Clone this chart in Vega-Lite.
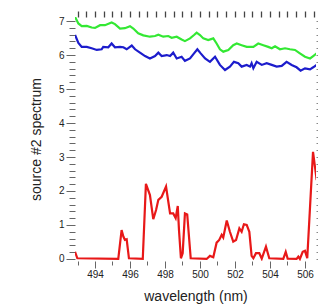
{
  "$schema": "https://vega.github.io/schema/vega-lite/v6.json",
  "width": 241,
  "height": 244,
  "autosize": {"type": "none"},
  "padding": {"left": 75, "top": 17, "right": 2, "bottom": 45},
  "config": {
    "view": {"stroke": null},
    "font": "Liberation Sans",
    "axis": {"grid": false, "domain": false, "labelFont": "Liberation Sans", "titleFont": "Liberation Sans", "labelColor": "#222", "titleColor": "#222", "tickColor": "#666", "titleFontWeight": "normal"}
  },
  "datasets": {
    "spec": [
      {"series": "A", "wl": 492.86, "v": 7.12}, {"series": "A", "wl": 493.05, "v": 6.93}, {"series": "A", "wl": 493.24, "v": 6.85}, {"series": "A", "wl": 493.53, "v": 6.86}, {"series": "A", "wl": 493.81, "v": 6.81}, {"series": "A", "wl": 494.0, "v": 6.8}, {"series": "A", "wl": 494.29, "v": 6.88}, {"series": "A", "wl": 494.57, "v": 6.88}, {"series": "A", "wl": 494.95, "v": 6.96}, {"series": "A", "wl": 495.14, "v": 6.91}, {"series": "A", "wl": 495.43, "v": 6.78}, {"series": "A", "wl": 495.71, "v": 6.79}, {"series": "A", "wl": 496.0, "v": 6.85}, {"series": "A", "wl": 496.19, "v": 6.78}, {"series": "A", "wl": 496.47, "v": 6.64}, {"series": "A", "wl": 496.76, "v": 6.58}, {"series": "A", "wl": 497.14, "v": 6.54}, {"series": "A", "wl": 497.43, "v": 6.56}, {"series": "A", "wl": 497.62, "v": 6.6}, {"series": "A", "wl": 497.9, "v": 6.54}, {"series": "A", "wl": 498.19, "v": 6.56}, {"series": "A", "wl": 498.38, "v": 6.51}, {"series": "A", "wl": 498.67, "v": 6.54}, {"series": "A", "wl": 498.95, "v": 6.46}, {"series": "A", "wl": 499.14, "v": 6.41}, {"series": "A", "wl": 499.43, "v": 6.49}, {"series": "A", "wl": 499.66, "v": 6.59}, {"series": "A", "wl": 499.81, "v": 6.66}, {"series": "A", "wl": 500.0, "v": 6.59}, {"series": "A", "wl": 500.19, "v": 6.49}, {"series": "A", "wl": 500.47, "v": 6.44}, {"series": "A", "wl": 500.76, "v": 6.49}, {"series": "A", "wl": 500.95, "v": 6.34}, {"series": "A", "wl": 501.14, "v": 6.17}, {"series": "A", "wl": 501.33, "v": 6.1}, {"series": "A", "wl": 501.62, "v": 6.15}, {"series": "A", "wl": 501.9, "v": 6.29}, {"series": "A", "wl": 502.1, "v": 6.34}, {"series": "A", "wl": 502.38, "v": 6.29}, {"series": "A", "wl": 502.67, "v": 6.24}, {"series": "A", "wl": 503.05, "v": 6.24}, {"series": "A", "wl": 503.33, "v": 6.34}, {"series": "A", "wl": 503.62, "v": 6.29}, {"series": "A", "wl": 503.9, "v": 6.24}, {"series": "A", "wl": 504.1, "v": 6.2}, {"series": "A", "wl": 504.29, "v": 6.26}, {"series": "A", "wl": 504.57, "v": 6.17}, {"series": "A", "wl": 504.86, "v": 6.2}, {"series": "A", "wl": 505.14, "v": 6.17}, {"series": "A", "wl": 505.43, "v": 6.15}, {"series": "A", "wl": 505.71, "v": 6.05}, {"series": "A", "wl": 506.0, "v": 5.95}, {"series": "A", "wl": 506.29, "v": 5.9}, {"series": "A", "wl": 506.47, "v": 5.97}, {"series": "A", "wl": 506.67, "v": 6.05},
      {"series": "B", "wl": 492.86, "v": 6.59}, {"series": "B", "wl": 493.05, "v": 6.36}, {"series": "B", "wl": 493.24, "v": 6.24}, {"series": "B", "wl": 493.53, "v": 6.24}, {"series": "B", "wl": 493.81, "v": 6.2}, {"series": "B", "wl": 494.1, "v": 6.15}, {"series": "B", "wl": 494.38, "v": 6.17}, {"series": "B", "wl": 494.47, "v": 6.24}, {"series": "B", "wl": 494.76, "v": 6.23}, {"series": "B", "wl": 494.95, "v": 6.34}, {"series": "B", "wl": 495.14, "v": 6.23}, {"series": "B", "wl": 495.43, "v": 6.24}, {"series": "B", "wl": 495.62, "v": 6.23}, {"series": "B", "wl": 495.81, "v": 6.17}, {"series": "B", "wl": 496.1, "v": 6.28}, {"series": "B", "wl": 496.29, "v": 6.17}, {"series": "B", "wl": 496.57, "v": 6.07}, {"series": "B", "wl": 496.86, "v": 5.97}, {"series": "B", "wl": 497.14, "v": 5.9}, {"series": "B", "wl": 497.43, "v": 5.97}, {"series": "B", "wl": 497.62, "v": 6.07}, {"series": "B", "wl": 497.81, "v": 5.97}, {"series": "B", "wl": 498.1, "v": 6.0}, {"series": "B", "wl": 498.29, "v": 5.97}, {"series": "B", "wl": 498.47, "v": 6.07}, {"series": "B", "wl": 498.67, "v": 5.9}, {"series": "B", "wl": 498.95, "v": 5.95}, {"series": "B", "wl": 499.14, "v": 5.83}, {"series": "B", "wl": 499.43, "v": 5.9}, {"series": "B", "wl": 499.66, "v": 6.05}, {"series": "B", "wl": 499.85, "v": 6.17}, {"series": "B", "wl": 500.04, "v": 6.05}, {"series": "B", "wl": 500.29, "v": 5.9}, {"series": "B", "wl": 500.57, "v": 5.8}, {"series": "B", "wl": 500.86, "v": 5.95}, {"series": "B", "wl": 501.14, "v": 5.71}, {"series": "B", "wl": 501.43, "v": 5.56}, {"series": "B", "wl": 501.71, "v": 5.66}, {"series": "B", "wl": 501.94, "v": 5.8}, {"series": "B", "wl": 502.19, "v": 5.76}, {"series": "B", "wl": 502.38, "v": 5.66}, {"series": "B", "wl": 502.67, "v": 5.71}, {"series": "B", "wl": 502.86, "v": 5.66}, {"series": "B", "wl": 502.95, "v": 5.76}, {"series": "B", "wl": 503.05, "v": 5.61}, {"series": "B", "wl": 503.24, "v": 5.8}, {"series": "B", "wl": 503.53, "v": 5.71}, {"series": "B", "wl": 503.81, "v": 5.76}, {"series": "B", "wl": 504.1, "v": 5.71}, {"series": "B", "wl": 504.38, "v": 5.66}, {"series": "B", "wl": 504.67, "v": 5.68}, {"series": "B", "wl": 504.95, "v": 5.8}, {"series": "B", "wl": 505.24, "v": 5.71}, {"series": "B", "wl": 505.52, "v": 5.64}, {"series": "B", "wl": 505.75, "v": 5.54}, {"series": "B", "wl": 506.0, "v": 5.61}, {"series": "B", "wl": 506.29, "v": 5.58}, {"series": "B", "wl": 506.47, "v": 5.64}, {"series": "B", "wl": 506.67, "v": 5.71},
      {"series": "C", "wl": 492.86, "v": 0.21}, {"series": "C", "wl": 492.99, "v": 0.02}, {"series": "C", "wl": 495.33, "v": 0.0}, {"series": "C", "wl": 495.52, "v": 0.85}, {"series": "C", "wl": 495.62, "v": 0.66}, {"series": "C", "wl": 495.71, "v": 0.56}, {"series": "C", "wl": 495.81, "v": 0.58}, {"series": "C", "wl": 495.94, "v": 0.02}, {"series": "C", "wl": 496.73, "v": 0.0}, {"series": "C", "wl": 496.91, "v": 2.21}, {"series": "C", "wl": 497.14, "v": 1.88}, {"series": "C", "wl": 497.33, "v": 1.17}, {"series": "C", "wl": 497.49, "v": 1.44}, {"series": "C", "wl": 497.62, "v": 1.74}, {"series": "C", "wl": 497.81, "v": 1.83}, {"series": "C", "wl": 498.06, "v": 2.13}, {"series": "C", "wl": 498.29, "v": 1.34}, {"series": "C", "wl": 498.47, "v": 1.34}, {"series": "C", "wl": 498.61, "v": 1.2}, {"series": "C", "wl": 498.73, "v": 1.56}, {"series": "C", "wl": 498.8, "v": 0.85}, {"series": "C", "wl": 498.91, "v": 0.02}, {"series": "C", "wl": 499.01, "v": 0.17}, {"series": "C", "wl": 499.14, "v": 1.34}, {"series": "C", "wl": 499.27, "v": 1.31}, {"series": "C", "wl": 499.47, "v": 0.02}, {"series": "C", "wl": 500.38, "v": 0.0}, {"series": "C", "wl": 500.57, "v": 0.09}, {"series": "C", "wl": 500.76, "v": 0.05}, {"series": "C", "wl": 500.95, "v": 0.48}, {"series": "C", "wl": 501.1, "v": 0.56}, {"series": "C", "wl": 501.24, "v": 0.71}, {"series": "C", "wl": 501.33, "v": 0.63}, {"series": "C", "wl": 501.53, "v": 1.13}, {"series": "C", "wl": 501.71, "v": 0.8}, {"series": "C", "wl": 501.9, "v": 0.51}, {"series": "C", "wl": 502.06, "v": 0.56}, {"series": "C", "wl": 502.25, "v": 0.9}, {"series": "C", "wl": 502.38, "v": 0.8}, {"series": "C", "wl": 502.51, "v": 1.02}, {"series": "C", "wl": 502.67, "v": 1.0}, {"series": "C", "wl": 502.82, "v": 0.8}, {"series": "C", "wl": 502.95, "v": 0.09}, {"series": "C", "wl": 503.05, "v": 0.02}, {"series": "C", "wl": 503.2, "v": 0.17}, {"series": "C", "wl": 503.39, "v": 0.17}, {"series": "C", "wl": 503.53, "v": 0.01}, {"series": "C", "wl": 503.77, "v": 0.36}, {"series": "C", "wl": 503.96, "v": 0.02}, {"series": "C", "wl": 504.76, "v": 0.0}, {"series": "C", "wl": 504.9, "v": 0.21}, {"series": "C", "wl": 505.01, "v": 0.01}, {"series": "C", "wl": 505.52, "v": 0.0}, {"series": "C", "wl": 505.62, "v": 0.07}, {"series": "C", "wl": 505.71, "v": 0.0}, {"series": "C", "wl": 505.87, "v": 0.21}, {"series": "C", "wl": 506.0, "v": 0.24}, {"series": "C", "wl": 506.13, "v": 0.02}, {"series": "C", "wl": 506.46, "v": 3.15}, {"series": "C", "wl": 506.67, "v": 2.32}
    ]
  },
  "data": {"name": "spec"},
  "layer": [
    {
      "mark": {"type": "line", "strokeWidth": 2.2, "clip": true},
      "encoding": {
        "x": {"field": "wl", "type": "quantitative", "scale": {"domain": [492.857, 506.63], "nice": false, "zero": false},
          "axis": {"orient": "bottom", "title": "wavelength (nm)", "titleFontSize": 14, "titlePadding": 10,
            "values": [493, 494, 495, 496, 497, 498, 499, 500, 501, 502, 503, 504, 505, 506],
            "labelExpr": "datum.value % 2 === 0 ? datum.label : ''", "labelFontSize": 10, "labelPadding": 1, "labelFlush": false,
            "tickSize": {"condition": {"test": "datum.value % 2 === 0", "value": 7}, "value": 4}}},
        "y": {"field": "v", "type": "quantitative", "scale": {"domain": [-0.06, 7.12], "nice": false, "zero": false},
          "axis": {"orient": "left", "title": "source #2 spectrum", "titleFontSize": 14, "titlePadding": 15,
            "values": [0, 0.2, 0.4, 0.6, 0.8, 1, 1.2, 1.4, 1.6, 1.8, 2, 2.2, 2.4, 2.6, 2.8, 3, 3.2, 3.4, 3.6, 3.8, 4, 4.2, 4.4, 4.6, 4.8, 5, 5.2, 5.4, 5.6, 5.8, 6, 6.2, 6.4, 6.6, 6.8, 7],
            "labelExpr": "abs(datum.value - round(datum.value)) < 0.001 ? format(datum.value, 'd') : ''", "labelFontSize": 10, "labelPadding": 2, "labelFlush": false,
            "tickSize": {"condition": {"test": "abs(datum.value - round(datum.value)) < 0.001", "value": 9}, "value": 6}}},
        "color": {"field": "series", "type": "nominal", "legend": null,
          "scale": {"domain": ["A", "B", "C"], "range": ["#33e833", "#1c1ccc", "#e81818"]}}
      }
    },
    {
      "mark": {"type": "line", "strokeOpacity": 0, "clip": true},
      "encoding": {
        "x": {"field": "wl", "type": "quantitative",
          "axis": {"orient": "top", "title": null, "labels": false, "tickColor": "#444", "tickWidth": 1.3, "tickSize": 6,
            "values": [493, 493.5, 494, 494.5, 495, 495.5, 496, 496.5, 497, 497.5, 498, 498.5, 499, 499.5, 500, 500.5, 501, 501.5, 502, 502.5, 503, 503.5, 504, 504.5, 505, 505.5, 506, 506.5]}},
        "y": {"field": "v", "type": "quantitative",
          "axis": {"orient": "right", "title": null, "labels": false, "tickColor": "#888", "tickSize": 3,
            "values": [0, 0.2, 0.4, 0.6, 0.8, 1, 1.2, 1.4, 1.6, 1.8, 2, 2.2, 2.4, 2.6, 2.8, 3, 3.2, 3.4, 3.6, 3.8, 4, 4.2, 4.4, 4.6, 4.8, 5, 5.2, 5.4, 5.6, 5.8, 6, 6.2, 6.4, 6.6, 6.8, 7]}},
        "detail": {"field": "series"}
      }
    }
  ],
  "resolve": {"axis": {"x": "independent", "y": "independent"}}
}
